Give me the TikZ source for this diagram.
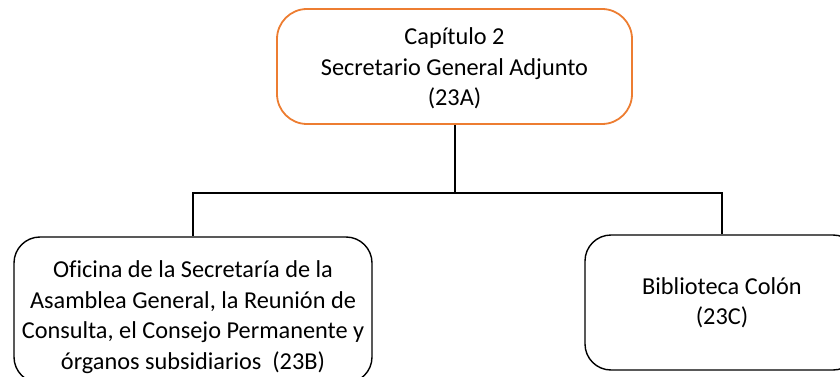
\documentclass[tikz,border=0pt]{standalone}
\usepackage{fontspec}
\setmainfont{Carlito}[Ligatures=NoCommon]
\definecolor{boxorange}{RGB}{237,125,49}
\begin{document}
\begin{tikzpicture}[x=1pt,y=-1pt,
  boxtext/.style={align=center, font=\fontsize{24.3}{30.5}\selectfont, inner sep=0pt},
  box/.style={boxtext, draw=black, line width=1.4pt, rounded corners=26pt},
  conn/.style={draw=black, line width=2pt}]
\useasboundingbox (0,0) rectangle (840,377);
\clip (0,0) rectangle (840,377);
\node[box, draw=boxorange, line width=1.8pt, rounded corners=30pt, minimum width=355pt, minimum height=115pt,
  label={[boxtext, yshift=-2pt]center:Capítulo 2\\Secretario General Adjunto\\(23A)}] (top) at (454.5,66.5) {};
\node[box, minimum width=358pt, minimum height=146pt,
  label={[boxtext, yshift=-7pt]center:Oficina de la Secretaría de la\\Asamblea General, la Reunión de\\Consulta, el Consejo Permanente y\\órganos subsidiarios~~(23B)}] (left) at (193,310) {};
\node[box, minimum width=274pt, minimum height=135pt] (right) at (722,302.5)
  {Biblioteca Colón\\(23C)};
\coordinate (j) at (top.south |- 0,193);
\draw[conn] (top.south) -- (j);
\draw[conn] (j) -| (left.north);
\draw[conn] (j) -| (right.north);
\end{tikzpicture}
\end{document}
